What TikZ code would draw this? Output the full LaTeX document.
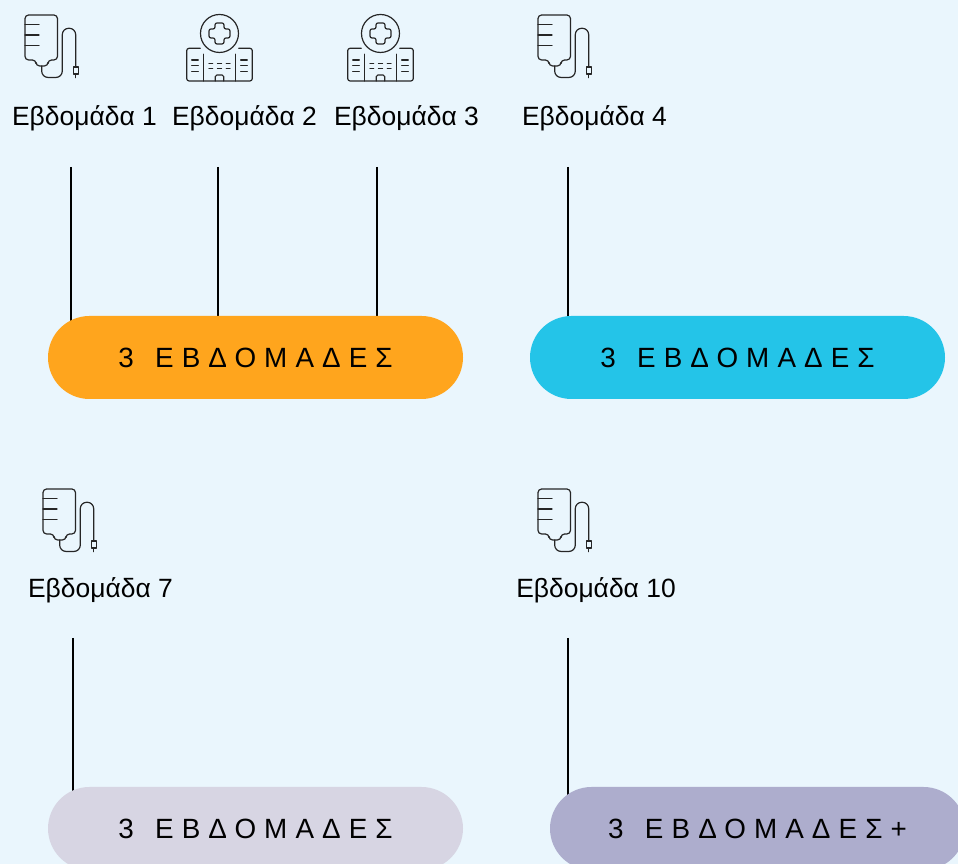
\documentclass[tikz,border=0pt]{standalone}
\usepackage{fontspec}
\setmainfont{Liberation Sans}
\usepackage{xcolor}
\usepackage{tikz}
\usetikzlibrary{backgrounds,shapes.misc}
\definecolor{pagebg}{HTML}{EAF6FD}
\definecolor{orangefill}{HTML}{FFA51D}
\definecolor{bluefill}{HTML}{24C4E8}
\definecolor{greyfill}{HTML}{D7D5E3}
\definecolor{purplefill}{HTML}{ADADCD}
\newcommand{\wk}{\fontsize{18.8pt}{22pt}\selectfont}
\newcommand{\spc}{\fontsize{19.8pt}{22pt}\selectfont\addfontfeature{LetterSpace=29}}
\newcommand{\gp}{\hspace{0.2em}}
\tikzset{
	weeklabel/.style={inner sep=0pt,font=\wk},
	pill/.style={rounded rectangle,inner sep=0pt,minimum width=10.375cm,minimum height=2.075cm,font=\spc},
	tick/.style={draw=black,line width=1.5pt},
	icon/.style={draw=black!85,line width=0.85pt,line cap=round,line join=round},
	drip/.pic={
		\begin{scope}[x=0.025cm,y=-0.025cm]
			\draw[icon,rounded corners=0.09cm] (0,0) -- (32.5,0) -- (32.5,45) -- (23,45) -- (23,51) -- (11,51) -- (11,45) -- (0,45) -- cycle;
			\draw[icon] (0,9.3) -- (14,9.3);
			\draw[icon] (0,20) -- (14,20);
			\draw[icon] (0,30.7) -- (14,30.7);
			\draw[icon,rounded corners=0.16cm] (16.7,51) -- (16.7,62.5) -- (37.3,62.5) -- (37.3,13.3) -- (50.7,13.3) -- (50.7,52);
			\draw[icon] (48.3,52) rectangle (53.2,59);
			\draw[icon] (50.7,59) -- (50.7,62.7);
		\end{scope}
	},
	hospital/.pic={
		\begin{scope}[x=0.025cm,y=-0.025cm]
			\draw[icon] (32.8,18.5) circle (19);
			\draw[icon,rounded corners=0.05cm] (28.3,8) -- (37.3,8) -- (37.3,14) -- (43.3,14) -- (43.3,23) -- (37.3,23) -- (37.3,29) -- (28.3,29) -- (28.3,23) -- (22.3,23) -- (22.3,14) -- (28.3,14) -- cycle;
			\draw[icon,rounded corners=0.06cm] (13.5,33.3) -- (0,33.3) -- (0,66) -- (65.6,66) -- (65.6,33.3) -- (52.1,33.3);
			\draw[icon] (16.6,39.3) -- (16.6,66);
			\draw[icon] (48.9,39.3) -- (48.9,66);
			\foreach \y in {45,50.7,56.7} {
				\draw[icon] (5,\y) -- (11.6,\y);
				\draw[icon] (54,\y) -- (60.6,\y);
			}
			\foreach \y in {48.3,53.3} {
				\draw[icon] (22.3,\y) -- (26,\y);
				\draw[icon] (30.8,\y) -- (34.8,\y);
				\draw[icon] (39.6,\y) -- (43.3,\y);
			}
			\draw[icon,rounded corners=0.04cm] (28.6,66) -- (28.6,60) -- (37,60) -- (37,66);
		\end{scope}
	}
}
\begin{document}
\begin{tikzpicture}
	\useasboundingbox (0,0) rectangle (23.95,21.6);
	\clip (0,0) rectangle (23.95,21.6);

	\node[pill,fill=orangefill] (pillA) at (6.3875,12.6625) {3\gp{} ΕΒΔΟΜΑΔΕΣ};
	\node[pill,fill=bluefill] (pillB) at (18.4375,12.6625) {3\gp{} ΕΒΔΟΜΑΔΕΣ};
	\node[pill,fill=greyfill] (pillC) at (6.3875,0.8875) {3\gp{} ΕΒΔΟΜΑΔΕΣ};
	\node[pill,fill=purplefill] (pillD) at (18.9375,0.8875) {3\gp{} ΕΒΔΟΜΑΔΕΣ+};

	\node[weeklabel] (wk1) at (2.1125,18.65) {Εβδομάδα 1};
	\node[weeklabel] (wk2) at (6.1125,18.65) {Εβδομάδα 2};
	\node[weeklabel] (wk3) at (10.1625,18.65) {Εβδομάδα 3};
	\node[weeklabel] (wk4) at (14.8625,18.65) {Εβδομάδα 4};
	\node[weeklabel] (wk7) at (2.5125,6.85) {Εβδομάδα 7};
	\node[weeklabel] (wk10) at (14.9,6.85) {Εβδομάδα 10};

	\coordinate (top1) at (1.775,17.425);
	\coordinate (top2) at (5.46,17.425);
	\coordinate (top3) at (9.425,17.425);
	\coordinate (top4) at (14.2,17.425);
	\coordinate (top7) at (1.825,5.65);
	\coordinate (top10) at (14.2,5.65);

	\begin{pgfonlayer}{background}
		\fill[pagebg] (0,0) rectangle (23.95,21.6);
		\draw[tick] (top1) -- (top1 |- pillA.center);
		\draw[tick] (top2) -- (top2 |- pillA.center);
		\draw[tick] (top3) -- (top3 |- pillA.center);
		\draw[tick] (top4) -- (top4 |- pillB.center);
		\draw[tick] (top7) -- (top7 |- pillC.center);
		\draw[tick] (top10) -- (top10 |- pillD.center);
	\end{pgfonlayer}

	\pic (drip1) at (0.625,21.225) {drip};
	\pic (hosp2) at (4.6675,21.225) {hospital};
	\pic (hosp3) at (8.6925,21.225) {hospital};
	\pic (drip4) at (13.45,21.225) {drip};
	\pic (drip7) at (1.075,9.375) {drip};
	\pic (drip10) at (13.45,9.375) {drip};
\end{tikzpicture}
\end{document}
